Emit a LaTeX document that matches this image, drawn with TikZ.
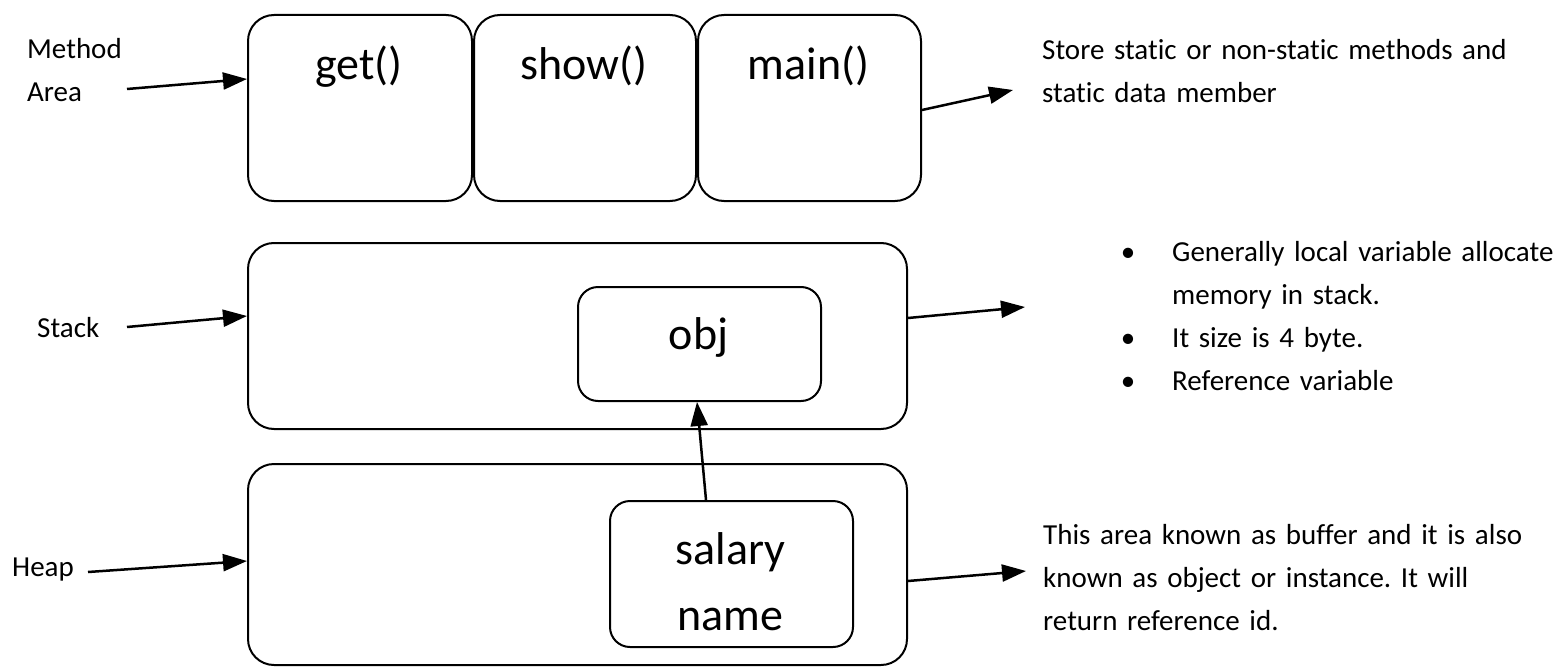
\documentclass[tikz,border=0pt]{standalone}
\usepackage{fontspec}
\setmainfont{Carlito}[Ligatures={NoCommon}, WordSpace={0.85,0,0}]
\frenchspacing
\usetikzlibrary{arrows.meta}
\begin{document}
\begin{tikzpicture}[x=1pt,y=-1pt,
  box/.style={draw, line width=2pt, rounded corners=26pt, inner sep=0pt, anchor=north west},
  inbox/.style={box, rounded corners=20pt},
  arr/.style={line width=2.5pt, -{Triangle[length=24pt,width=17pt]}},
  small/.style={font=\fontsize{29}{43}\selectfont, inner sep=0pt, anchor=base west, align=left, text width=520pt},
  big/.style={font=\fontsize{46}{66}\selectfont, inner sep=0pt, anchor=base},
  bul/.style={font=\fontsize{29}{43}\selectfont, inner sep=0pt, anchor=base},
]
\useasboundingbox (0,0) rectangle (1562,666);

% Method area
\node[box, minimum width=224pt, minimum height=186pt] (b1) at (247,14) {};
\node[box, minimum width=222pt, minimum height=186pt] (b2) at (473,14) {};
\node[box, minimum width=223pt, minimum height=186pt] (b3) at (697,14) {};
\node[big] (tget) at (359,80) {get()};
\node[big] (tshow) at (584,80) {show()};
\node[big] (tmain) at (808.5,80) {main()};

% Stack
\node[box, minimum width=659pt, minimum height=186pt] (stack) at (247,242) {};
\node[inbox, minimum width=243pt, minimum height=114pt] (obj) at (577,286) {};
\node[big] (tobj) at (698.5,349) {obj};

% Heap
\node[box, minimum width=659pt, minimum height=201pt] (heap) at (247,463) {};
\node[inbox, minimum width=243pt, minimum height=146pt] (sal) at (609,500) {};
\node[big] (tsal) at (730.5,564) {salary};
\node[big] (tname) at (730.5,630) {name};

% Left labels
\node[small] (lmethod) at (27,59) {Method\\Area};
\node[small] (lstack) at (37,337) {Stack};
\node[small] (lheap) at (12,576) {Heap};

% Right texts
\node[small] (rstore) at (1042,60) {Store static or non-static methods and\\static data member};
\node[bul] (bu1) at (1128,261) {\textbullet};
\node[bul] (bu2) at (1128,347) {\textbullet};
\node[bul] (bu3) at (1128,390) {\textbullet};
\node[small] (it1) at (1172,261) {Generally local variable allocate\\memory in stack.};
\node[small] (it2) at (1172,347) {It size is 4 byte.};
\node[small] (it3) at (1172,390) {Reference variable};
\node[small] (rheap) at (1043,544) {This area known as buffer and it is also\\known as object or instance. It will\\return reference id.};

% Connector end points
\coordinate (cm) at (127,89);
\coordinate (cs) at (127,327);
\coordinate (ch) at (88,572);
\coordinate (cr1) at (1013,90);
\coordinate (cr2) at (1025,307);
\coordinate (cr3) at (1026,571);

% Arrows
\draw[arr] (cm) -- (b1.west |- 0,79);
\draw[arr] (b3.east |- 0,110) -- (cr1);
\draw[arr] (cs) -- (stack.west |- 0,316);
\draw[arr] (stack.east |- 0,318) -- (cr2);
\draw[arr] (ch) -- (heap.west |- 0,561);
\draw[arr] (heap.east |- 0,581) -- (cr3);
\draw[arr] (706,0 |- sal.north) -- (697,0 |- obj.south);
\end{tikzpicture}
\end{document}
